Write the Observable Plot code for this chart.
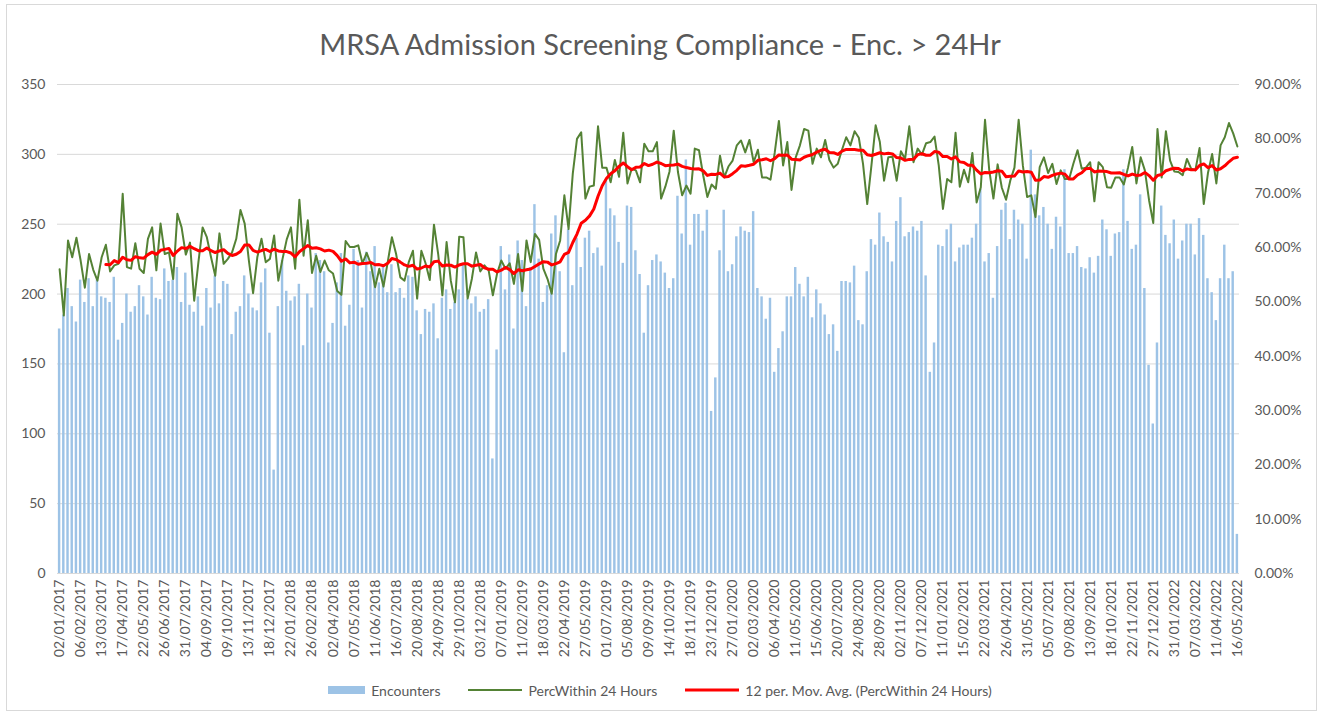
<!DOCTYPE html>
<html>
<head>
<meta charset="utf-8">
<script src="https://cdn.jsdelivr.net/npm/d3@7"></script>
<script src="https://cdn.jsdelivr.net/npm/@observablehq/plot@0.6"></script>
<style>
  body { margin: 0; background: #fff; }
  #chart { position: relative; width: 1320px; height: 714px; font-family: Lato, "Open Sans", sans-serif; color: #595959; overflow: hidden; }
  #frame { position: absolute; left: 6px; top: 4px; width: 1309px; height: 705px; border: 1px solid #d9d9d9; pointer-events: none; }
  #title { height: 70px; box-sizing: border-box; padding-top: 26px; font-size: 29px; line-height: 36px; text-align: center; }
  #plot svg { display: block; }
  #legend { position: absolute; left: 0; top: 679px; width: 1320px; height: 22px; display: flex; justify-content: center; align-items: center; font-size: 14px; gap: 0; }
  .item { display: flex; align-items: center; margin: 0 14px; }
  .item svg { margin-right: 6px; }
</style>
</head>
<body>
<div id="chart">
  <div id="title"></div>
  <div id="plot"></div>
  <div id="legend"></div>
  <div id="frame"></div>
</div>
<script>
const titleText = "MRSA Admission Screening Compliance - Enc. > 24Hr";
const seriesNames = ["Encounters", "PercWithin 24 Hours", "12 per. Mov. Avg. (PercWithin 24 Hours)"];
const startDate = "2017-01-02";

// Weekly encounters (left axis)
const encounters = [
  175,185,204,191,180,210,194,211,191,210,198,197,194,212,167,179,200,187,191,206,198,185,212,197,196,218,209,210,
  219,194,215,192,187,198,177,204,190,213,193,209,207,171,187,191,213,200,190,188,208,218,172,74,191,224,202,
  195,198,207,163,200,190,229,224,216,165,179,208,229,177,192,232,224,190,230,216,234,208,221,201,221,201,204,197,
  213,212,188,171,189,187,193,168,197,203,189,194,203,221,196,193,198,187,189,196,82,160,234,203,228,175,238,
  224,191,219,264,225,194,206,243,256,216,158,246,206,240,219,240,245,229,233,220,281,261,256,237,222,263,262,
  231,214,172,206,224,228,223,215,204,211,270,243,296,235,257,257,245,260,116,140,231,260,216,221,241,248,245,244,
  259,204,198,182,197,144,161,173,198,198,219,207,198,212,183,203,193,185,171,178,159,209,209,208,220,181,178,
  216,239,235,258,241,237,223,252,269,241,244,248,245,252,213,144,165,235,234,246,250,223,233,235,235,240,250,
  275,223,229,197,234,260,265,239,260,253,250,225,303,271,256,262,250,232,255,248,289,229,229,234,219,218,226,215,
  227,253,246,227,243,244,289,252,232,235,271,204,149,107,165,263,242,236,253,225,238,250,250,228,254,242,211,201,181,211,235,211,216,28
];

// Weekly % screened within 24 hours (right axis)
const percWithin = [
  56.0,47.5,61.3,58.2,61.8,57.6,52.6,58.8,55.9,53.9,58.2,60.5,55.6,56.7,57.0,69.9,56.4,56.1,60.8,56.1,55.3,61.6,63.7,55.8,64.4,58.8,59.1,54.2,
  66.2,63.7,58.7,60.9,50.2,57.3,63.7,61.9,58.2,54.8,62.6,57.0,57.9,59.1,61.6,66.9,64.4,57.6,51.6,58.2,61.6,57.3,57.9,62.2,53.9,57.9,61.5,
  63.7,56.1,68.8,58.5,65.0,55.3,58.5,55.5,57.6,55.8,55.2,52.0,51.3,61.2,60.1,60.1,60.4,57.1,59.0,57.0,52.7,56.1,52.8,57.3,61.9,58.8,54.5,53.9,
  57.3,59.4,50.6,59.4,57.1,54.0,64.2,58.8,51.2,61.0,53.9,49.9,62.0,61.9,50.6,54.2,59.1,55.6,56.7,55.8,51.2,55.2,57.6,56.1,57.1,53.3,58.8,
  52.0,61.3,57.3,62.5,61.4,56.1,54.2,51.5,58.8,61.3,69.6,63.4,73.6,80.0,81.2,69.0,71.2,71.4,82.3,74.7,74.7,72.0,76.1,73.0,81.1,71.8,74.5,
  74.2,72.0,79.1,77.7,77.7,79.4,69.0,71.2,74.0,81.5,73.9,69.6,71.4,69.9,78.2,77.9,73.3,69.3,71.6,70.8,76.9,72.9,74.9,76.0,78.8,79.7,77.5,79.8,
  75.7,78.0,72.9,72.9,72.5,77.4,83.3,75.1,79.4,70.6,76.6,78.8,81.8,81.5,75.4,78.2,76.6,79.8,76.1,74.7,75.4,78.0,80.3,78.8,81.4,80.2,75.4,
  68.0,75.1,82.5,79.4,72.3,76.6,76.7,72.3,77.7,76.3,82.3,75.7,78.2,77.1,79.2,79.4,80.4,75.1,67.1,72.6,72.0,81.1,71.2,74.3,72.0,77.4,68.3,
  71.1,83.5,74.3,69.0,75.3,71.0,68.8,72.3,74.7,83.5,75.1,69.3,69.6,65.6,74.8,76.6,73.7,75.4,71.7,74.2,72.6,72.6,75.4,77.9,74.5,74.7,75.7,68.5,
  75.7,74.8,71.1,71.0,72.9,72.9,71.6,74.7,78.5,71.8,76.6,74.2,68.7,64.5,81.8,72.9,81.4,76.0,74.0,73.9,73.3,76.3,74.5,74.2,78.3,68.0,73.7,77.2,71.8,78.8,80.3,82.9,81.0,78.6
];

const leftTicks = [0, 50, 100, 150, 200, 250, 300, 350];
const rightTicks = [0, 10, 20, 30, 40, 50, 60, 70, 80, 90];
const leftMax = 350, rightMax = 90;
const movAvgPeriod = 12;
const tickEvery = 5;

const colors = { bar: "#9dc3e6", green: "#548235", red: "#ff0000", text: "#595959", grid: "#d9d9d9" };

// Build week categories
const fmt = d3.utcFormat("%d/%m/%Y");
const start = new Date(startDate + "T00:00:00Z");
const weeks = encounters.map((_, i) => fmt(d3.utcDay.offset(start, 7 * i)));
const rows = weeks.map((w, i) => ({ week: w, enc: encounters[i], pct: percWithin[i] }));
const xTicks = weeks.filter((_, i) => i % tickEvery === 0);
const toLeft = p => p * leftMax / rightMax;

document.getElementById("title").textContent = titleText;

const chart = Plot.plot({
  width: 1320,
  height: 610,
  marginTop: 14,
  marginBottom: 107,
  marginLeft: 57,
  marginRight: 81,
  style: { fontFamily: "Lato, 'Open Sans', sans-serif", fontSize: "14px", color: colors.text, background: "transparent" },
  x: { type: "band", domain: weeks, paddingInner: 0.42, paddingOuter: 0.21 },
  y: { domain: [0, leftMax] },
  marks: [
    Plot.gridY(leftTicks, { stroke: colors.grid, strokeOpacity: 1, strokeWidth: 1 }),
    Plot.barY(rows, { x: "week", y: "enc", fill: colors.bar }),
    Plot.line(rows, { x: "week", y: d => toLeft(d.pct), stroke: colors.green, strokeWidth: 2, strokeLinejoin: "round" }),
    Plot.line(rows, Plot.windowY({ k: movAvgPeriod, anchor: "end", strict: true, reduce: "mean" },
      { x: "week", y: d => toLeft(d.pct), stroke: colors.red, strokeWidth: 3, strokeLinejoin: "round" })),
    Plot.ruleY([0], { stroke: colors.grid, strokeWidth: 1 }),
    Plot.axisY(leftTicks, { anchor: "left", tickSize: 0, tickPadding: 12, label: null, fontSize: 14 }),
    Plot.axisY(rightTicks.map(toLeft), { anchor: "right", tickSize: 0, tickPadding: 15, label: null, fontSize: 14,
      tickFormat: v => (v * rightMax / leftMax).toFixed(2) + "%" }),
    Plot.axisX(xTicks, { anchor: "bottom", tickSize: 0, tickPadding: 6, tickRotate: -90, label: null, fontSize: 14 })
  ]
});
document.getElementById("plot").appendChild(chart);

// Legend
const legend = document.getElementById("legend");
const swatches = [
  `<svg width="37" height="12"><rect x="0" y="2" width="37" height="8" fill="${colors.bar}"/></svg>`,
  `<svg width="54" height="12"><line x1="0" x2="54" y1="6" y2="6" stroke="${colors.green}" stroke-width="2"/></svg>`,
  `<svg width="54" height="12"><line x1="0" x2="54" y1="6" y2="6" stroke="${colors.red}" stroke-width="3"/></svg>`
];
seriesNames.forEach((name, i) => {
  const el = document.createElement("div");
  el.className = "item";
  el.innerHTML = swatches[i] + `<span>${name}</span>`;
  legend.appendChild(el);
});
</script>
</body>
</html>
